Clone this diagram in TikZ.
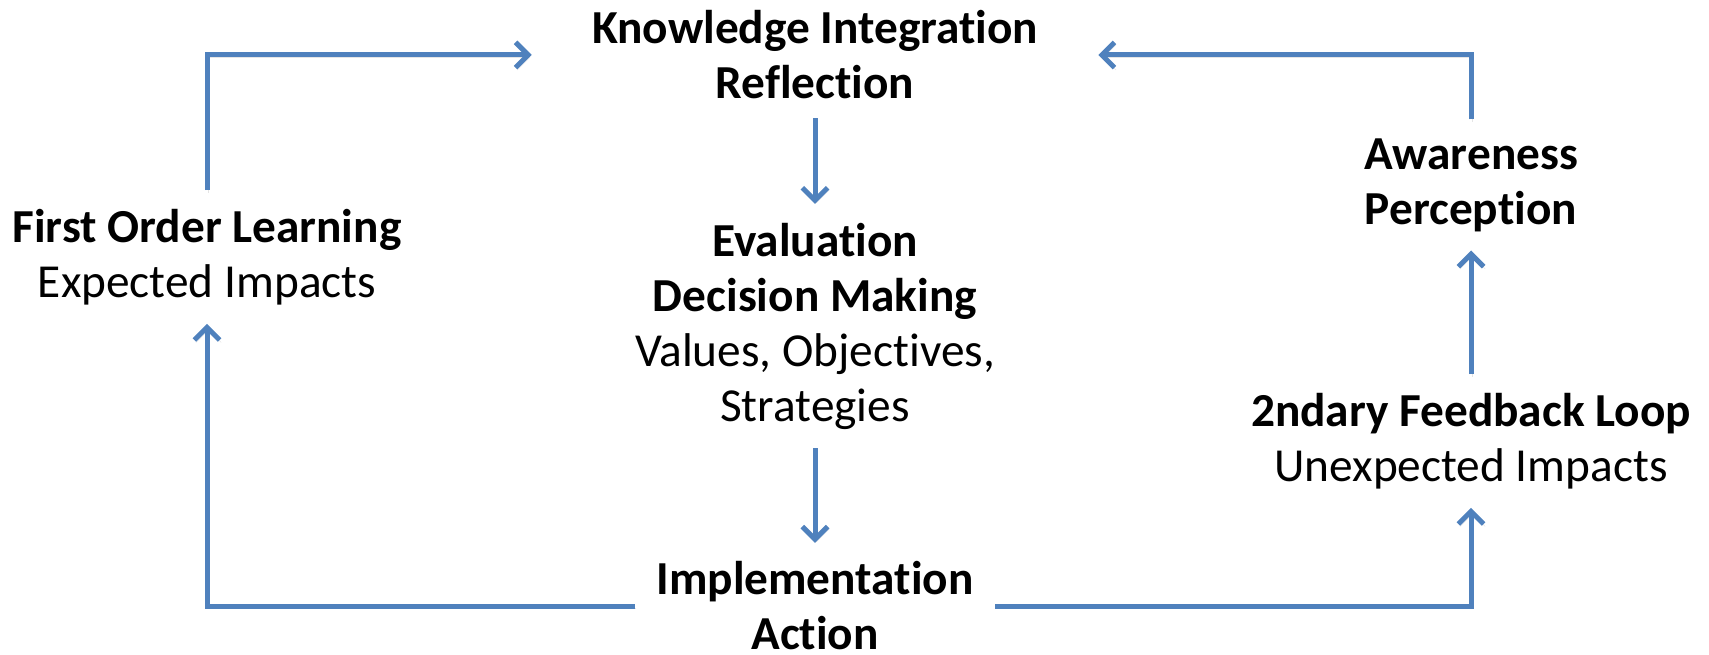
\documentclass[tikz,border=0pt]{standalone}
\usepackage{fontspec}
\setmainfont{Carlito}[Ligatures=NoCommon]
\usetikzlibrary{arrows.meta}
\definecolor{lineblue}{HTML}{4F81BD}
\begin{document}
\begin{tikzpicture}[x=0.75pt,y=-0.75pt,
  lbl/.style={font=\fontsize{35.5}{41.25}\selectfont, align=center, inner xsep=16pt, inner ysep=14pt},
  conn/.style={draw=lineblue, line width=3.75pt, -{Straight Barb[length=9.5pt,width=19pt]}, line join=miter,
    preaction={draw=black!10, transform canvas={shift={(1.2pt,-1.8pt)}}}},
]
\useasboundingbox (0,0) rectangle (1709,655);
\node[lbl, inner xsep=45pt] (KI) at (815,55) {\textbf{Knowledge Integration}\\\textbf{Reflection}};
\node[lbl] (EV) at (815,326) {\textbf{Evaluation}\\\textbf{Decision Making}\\Values, Objectives,\\Strategies};
\node[lbl] (IA) at (815,606) {\textbf{Implementation}\\\textbf{Action}};
\node[lbl] (FO) at (207,257) {\textbf{First Order Learning}\\Expected Impacts};
\node[lbl] (AW) at (1471,185) {\textbf{Awareness}\\\textbf{Perception}};
\node[lbl] (SF) at (1471,441) {\textbf{2ndary Feedback Loop}\\Unexpected Impacts};
\draw[conn] (FO) |- (KI);
\draw[conn] (AW) |- (KI);
\draw[conn] (KI) -- (EV);
\draw[conn] (EV) -- (IA);
\draw[conn] (IA) -| (FO);
\draw[conn] (IA) -| (SF);
\draw[conn] (SF) -- (AW);
\end{tikzpicture}
\end{document}
